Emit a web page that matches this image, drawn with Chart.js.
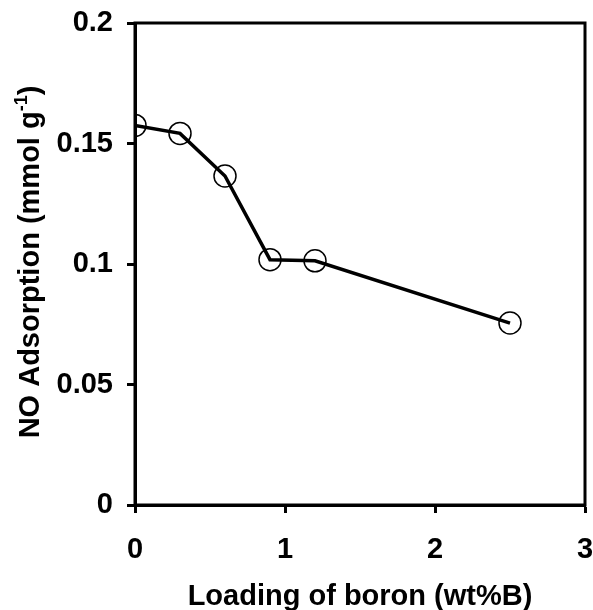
<!DOCTYPE html>
<html>
<head>
<meta charset="utf-8">
<script src="https://cdn.jsdelivr.net/npm/chart.js@4/dist/chart.umd.min.js"></script>
<style>
  html, body { margin: 0; padding: 0; background: #fff; }
  #wrap { width: 593px; height: 610px; position: relative; }
</style>
</head>
<body>
<div id="wrap"><canvas id="chart"></canvas></div>
<script>
// boron loading (wt%B) vs NO adsorption (mmol/g)
const boronLoading = [0, 0.3, 0.6, 0.9, 1.2, 2.5];
const noAdsorption = [0.1575, 0.1542, 0.1365, 0.1018, 0.1013, 0.0755];
const xTicks = [0, 1, 2, 3];
const yTicks = [0, 0.05, 0.1, 0.15, 0.2];
const yTickLabels = ['0', '0.05', '0.1', '0.15', '0.2'];
const xTitle = 'Loading of boron (wt%B)';
const yTitle = ['NO Adsorption (mmol g', '-1', ')'];

const FONT = 'Liberation Sans, Arial, sans-serif';
const FS = 29;

// frame around the plot + y title with superscript
const framePlugin = {
    id: 'frame',
    afterDraw(chart) {
        const { ctx, chartArea: a } = chart;
        ctx.save();
        ctx.strokeStyle = '#000';
        ctx.lineWidth = 3;
        ctx.strokeRect(a.left, a.top, a.right - a.left, a.bottom - a.top);

        ctx.fillStyle = '#000';
        ctx.textBaseline = 'alphabetic';
        const big = 'bold ' + FS + 'px ' + FONT;
        const small = 'bold 18px ' + FONT;
        ctx.font = big;
        const w1 = ctx.measureText(yTitle[0]).width;
        const w3 = ctx.measureText(yTitle[2]).width;
        ctx.font = small;
        const w2 = ctx.measureText(yTitle[1]).width;
        const total = w1 + w2 + w3;
        ctx.translate(39, 262);
        ctx.rotate(-Math.PI / 2);
        let x = -total / 2;
        ctx.font = big;
        ctx.fillText(yTitle[0], x, 0);
        x += w1;
        ctx.font = small;
        ctx.fillText(yTitle[1], x, -12);
        x += w2;
        ctx.font = big;
        ctx.fillText(yTitle[2], x, 0);
        ctx.restore();
    }
};

new Chart(document.getElementById('chart'), {
    type: 'scatter',
    data: {
        datasets: [{
            data: boronLoading.map((x, i) => ({ x: x, y: noAdsorption[i] })),
            showLine: true,
            borderColor: '#000',
            borderWidth: 3.5,
            pointRadius: 11,
            pointBorderWidth: 1.5,
            pointBorderColor: '#000',
            pointBackgroundColor: 'rgba(0,0,0,0)',
            tension: 0
        }]
    },
    options: {
        responsive: true,
        maintainAspectRatio: false,
        animation: false,
        layout: { autoPadding: false, padding: { top: 23, right: 8, left: 0, bottom: 0 } },
        plugins: {
            legend: { display: false },
            tooltip: { enabled: false }
        },
        scales: {
            x: {
                type: 'linear',
                min: 0,
                max: 3,
                afterBuildTicks: s => { s.ticks = xTicks.map(v => ({ value: v })); },
                afterFit: s => { s.height = 105; s.paddingLeft = 0; s.paddingRight = 0; },
                border: { display: true, color: '#000', width: 3 },
                grid: { drawOnChartArea: false, drawTicks: true, tickLength: 8, tickWidth: 3, color: '#000' },
                ticks: {
                    color: '#000',
                    padding: 20,
                    maxRotation: 0,
                    font: { family: FONT, size: FS, weight: 'bold' },
                    callback: v => String(v)
                },
                title: {
                    display: true,
                    text: xTitle,
                    color: '#000',
                    padding: { top: 0, bottom: -4 },
                    font: { family: FONT, size: FS, weight: 'bold' }
                }
            },
            y: {
                min: 0,
                max: 0.2,
                afterBuildTicks: s => { s.ticks = yTicks.map(v => ({ value: v })); },
                afterFit: s => { s.width = 135; s.paddingTop = 0; s.paddingBottom = 0; },
                border: { display: true, color: '#000', width: 3 },
                grid: { drawOnChartArea: false, drawTicks: true, tickLength: 8, tickWidth: 3, color: '#000' },
                ticks: {
                    color: '#000',
                    padding: 14,
                    font: { family: FONT, size: FS, weight: 'bold' },
                    callback: (v, i) => yTickLabels[i]
                }
            }
        }
    },
    plugins: [framePlugin]
});
</script>
</body>
</html>
